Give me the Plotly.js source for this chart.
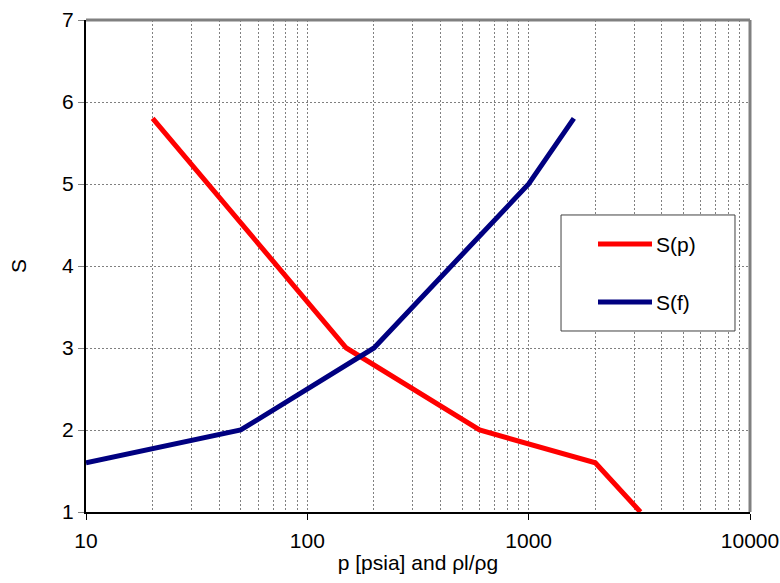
<!DOCTYPE html>
<html>
<head>
<meta charset="utf-8">
<script src="https://cdn.plot.ly/plotly-3.0.1.min.js"></script>
<style>html,body{margin:0;padding:0;background:#fff;}#chart{width:780px;height:583px;}</style>
</head>
<body>
<div id="chart"></div>
<script>
const spX = [20, 150, 600, 2000, 3200];
const spY = [5.8, 3.0, 2.0, 1.6, 1.0];
const sfX = [10, 50, 200, 1000, 1600];
const sfY = [1.6, 2.0, 3.0, 5.0, 5.8];
const xTicks = [10, 100, 1000, 10000];
const xTickText = ['10', '100', '1000', '10000'];
const xMinor = [20,30,40,50,60,70,80,90,200,300,400,500,600,700,800,900,2000,3000,4000,5000,6000,7000,8000,9000];
const yTicks = [1, 2, 3, 4, 5, 6, 7];
const seriesNames = ['S(p)', 'S(f)'];
const colors = ['#ff0000', '#000080'];

const font = {family: 'Liberation Sans, Arial, sans-serif', size: 21, color: '#000'};
const gridDash = '2px,2px';

const traces = [
  {x: spX, y: spY, mode: 'lines', name: seriesNames[0], line: {color: colors[0], width: 5}, showlegend: false},
  {x: sfX, y: sfY, mode: 'lines', name: seriesNames[1], line: {color: colors[1], width: 5}, showlegend: false}
];

// legend box (manual) in paper coords
const lg = {x0: 0.7154, x1: 0.9774, y0: 0.3679, y1: 0.6037, lx0: 0.7711, lx1: 0.8524, ly: [0.5447, 0.4268], tx: 0.856};
const shapes = [
  {type: 'line', xref: 'paper', yref: 'paper', x0: 0, x1: 1, y0: 1, y1: 1, line: {color: '#808080', width: 3}},
  {type: 'line', xref: 'paper', yref: 'paper', x0: 1, x1: 1, y0: 0, y1: 1, line: {color: '#808080', width: 3}},
  {type: 'rect', xref: 'paper', yref: 'paper', x0: lg.x0, x1: lg.x1, y0: lg.y0, y1: lg.y1, line: {color: '#404040', width: 1}, fillcolor: '#ffffff'}
];
const annotations = [];
seriesNames.forEach((n, i) => {
  shapes.push({type: 'line', xref: 'paper', yref: 'paper', x0: lg.lx0, x1: lg.lx1, y0: lg.ly[i], y1: lg.ly[i], line: {color: colors[i], width: 5}});
  annotations.push({xref: 'paper', yref: 'paper', x: lg.tx, y: lg.ly[i], text: n, showarrow: false, xanchor: 'left', yanchor: 'middle', font: font});
});

const layout = {
  width: 780, height: 583,
  margin: {l: 86, r: 30, t: 20, b: 71},
  paper_bgcolor: '#fff', plot_bgcolor: '#fff',
  font: font,
  showlegend: false,
  xaxis: {
    type: 'log', range: [1, 4],
    tickvals: xTicks, ticktext: xTickText,
    ticks: 'outside', ticklen: 6, tickcolor: '#000', tickwidth: 1,
    ticklabelstandoff: 3,
    showline: true, linecolor: '#000', linewidth: 2,
    showgrid: true, gridcolor: '#808080', griddash: gridDash, gridwidth: 1,
    minor: {tickvals: xMinor, showgrid: true, gridcolor: '#808080', griddash: gridDash, gridwidth: 1, ticks: ''},
    zeroline: false,
    tickfont: font,
    title: {text: 'p [psia] and ρl/ρg', font: font, standoff: 4}
  },
  yaxis: {
    range: [1, 7], tickvals: yTicks,
    ticks: 'outside', ticklen: 6, tickcolor: '#808080', tickwidth: 1,
    showline: true, linecolor: '#000', linewidth: 2,
    showgrid: true, gridcolor: '#808080', griddash: gridDash, gridwidth: 1,
    zeroline: false,
    tickfont: font,
    title: {text: 'S', font: font, standoff: 30}
  },
  shapes: shapes,
  annotations: annotations
};

Plotly.newPlot('chart', traces, layout, {displayModeBar: false, staticPlot: true});
</script>
</body>
</html>
